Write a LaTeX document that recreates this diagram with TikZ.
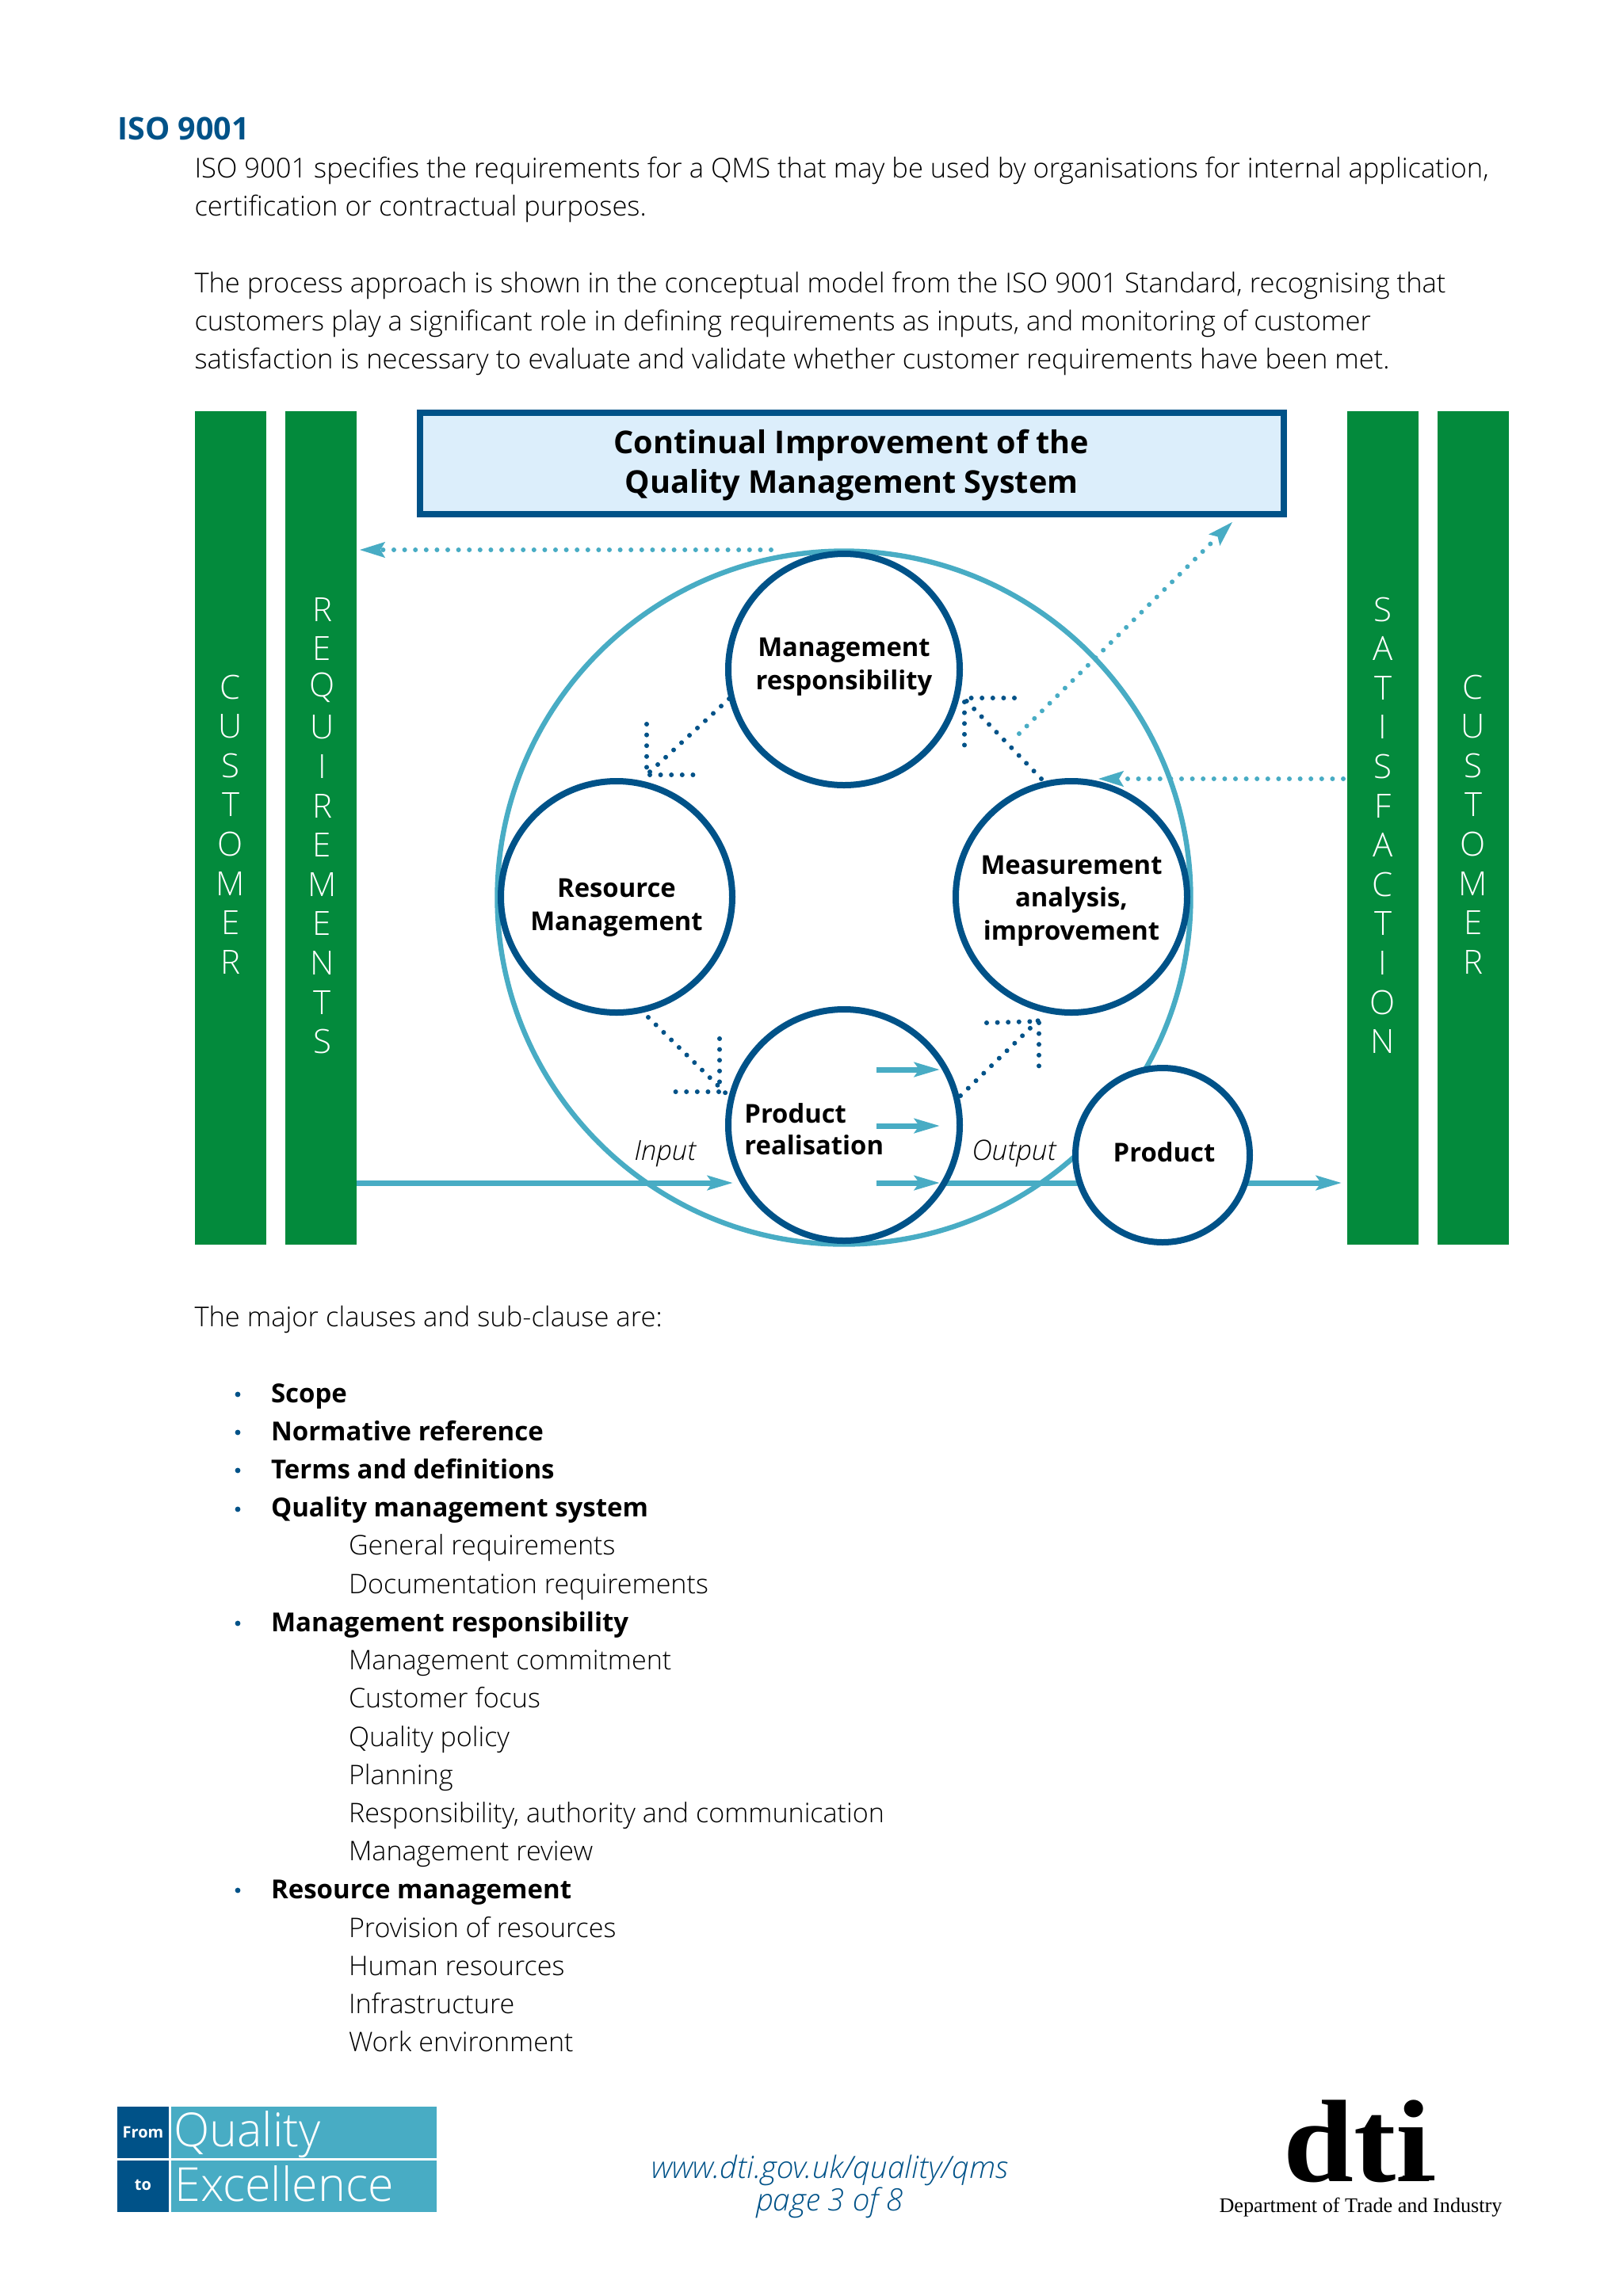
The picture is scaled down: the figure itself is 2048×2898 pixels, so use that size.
\documentclass[tikz,border=0pt]{standalone}
\usepackage{fontspec}
\usetikzlibrary{arrows.meta,calc}
\setmainfont{Open Sans Light}[ItalicFont=Open Sans Light Italic]
\newfontfamily\semifam{Open Sans}
\newcommand{\semibold}{\semifam\bfseries}
\newfontfamily\dtiserif{Liberation Serif}
\definecolor{dkblue}{HTML}{005288}
\definecolor{teal}{HTML}{48ACC4}
\definecolor{paleblue}{HTML}{DCEEFB}
\definecolor{barg}{HTML}{038A3C}
\tikzset{
  x=0.5pt,y=-0.5pt,
  line/.style={anchor=base west,inner sep=0pt,outer sep=0pt,font=\fontsize{17.27}{19}\selectfont},
  subline/.style={line,font=\fontsize{17.05}{19}\selectfont},
  boldline/.style={line,font=\fontsize{16.5}{19}\semibold},
  bullet/.style={circle,fill=dkblue,inner sep=0pt,minimum size=3.4pt},
  bar/.style={rectangle,fill=barg,inner sep=0pt,minimum width=45pt,minimum height=526pt},
  barletter/.style={anchor=center,inner sep=0pt,text=white,font=\fontsize{21}{24}\selectfont},
  proc/.style={circle,draw=dkblue,line width=4pt,fill=white,inner sep=0pt,minimum size=146pt},
  lbl/.style={inner sep=0pt,align=center,font=\fontsize{16.4}{20.8}\semibold},
  solidflow/.style={draw=teal,line width=3.5pt},
  solidarrow/.style={solidflow,-{Stealth[length=16pt,width=9pt,inset=3pt]}},
  dotblue/.style={draw=dkblue,line width=3pt,line cap=round,dash pattern=on 0pt off 6.8pt},
  dotteal/.style={draw=teal,line width=3pt,line cap=round,dash pattern=on 0pt off 6.8pt},
  tealtip/.style={draw=teal,line width=1pt,-{Stealth[length=16pt,width=10pt,inset=3pt]}},
}
\begin{document}
\begin{tikzpicture}
\useasboundingbox[fill=white] (0,0) rectangle (2048,2898);

% text above
\node[anchor=base west,inner sep=0pt,text=dkblue,font=\fontsize{19.7}{24}\semibold] (title) at (148,176) {ISO 9001};
\node[line] (t1) at (245.5,224) {ISO 9001 specifies the requirements for a QMS that may be used by organisations for internal application,};
\node[line] (t2) at (245.5,272.3) {certification or contractual purposes.};
\node[line] (t3) at (245.5,369) {The process approach is shown in the conceptual model from the ISO 9001 Standard, recognising that};
\node[line] (t4) at (245.5,417) {customers play a significant role in defining requirements as inputs, and monitoring of customer};
\node[line] (t5) at (245.5,465) {satisfaction is necessary to evaluate and validate whether customer requirements have been met.};

% bars
\node[bar] (barA) at (291,1045) {};
\node[bar] (barB) at (405,1045) {};
\node[bar] (barC) at (1745,1045) {};
\node[bar] (barD) at (1859,1045) {};
\foreach \c [count=\i from 0] in {C,U,S,T,O,M,E,R}{
  \node[barletter] (a\i) at (291,867+49.6*\i) {\c};
  \node[barletter] (d\i) at (1859,867+49.6*\i) {\c};
}
\foreach \c [count=\i from 0] in {R,E,Q,U,I,R,E,M,E,N,T,S}{
  \node[barletter] (b\i) at (406.5,769+49.6*\i) {\c};
}
\foreach \c [count=\i from 0] in {S,A,T,I,S,F,A,C,T,I,O,N}{
  \node[barletter] (c\i) at (1745,769+49.6*\i) {\c};
}

% improvement box
\node[rectangle,draw=dkblue,line width=4pt,fill=paleblue,inner sep=0pt,minimum width=545pt,minimum height=64pt] (improve) at (1074.5,585) {};
\node[inner sep=0pt,align=center,font=\fontsize{19.8}{25}\semibold] (improveL) at (1074.5,587) {Continual Improvement of the\\Quality Management System};

% big circle and process circles
\node[circle,draw=teal,line width=3.2pt,inner sep=0pt,minimum size=437.5pt] (big) at (1065,1133) {};

% connector end points
\coordinate (inL) at (450,1493);
\coordinate (inR) at (925,1493);
\coordinate (a1s) at (1106,1350); \coordinate (a1e) at (1186,1350);
\coordinate (a2s) at (1106,1421); \coordinate (a2e) at (1186,1421);
\coordinate (a3s) at (1106,1493); \coordinate (a3e) at (1186,1493);
\coordinate (outL) at (1186,1493);
\coordinate (outR) at (1693,1493);
\coordinate (prodW) at (1400,1493);
\coordinate (prodE) at (1500,1493);

\draw[solidarrow] (inL) -- (inR);
\draw[solidflow] (outL) -- (prodW);
\draw[solidarrow] (prodE) -- (outR);

\node[proc] (mgmt) at (1065,845) {};
\node[proc] (res) at (778,1132) {};
\node[proc] (meas) at (1352,1132) {};
\node[proc] (real) at (1065,1420) {};
\node[proc,minimum size=110pt] (prod) at (1467,1458) {};

\draw[solidarrow] (a1s) -- (a1e);
\draw[solidarrow] (a2s) -- (a2e);
\draw[solidarrow] (a3s) -- (a3e);

\node[lbl] (mgmtL) at (1065,842) {Management\\responsibility};
\node[lbl] (resL) at (778,1146) {Resource\\Management};
\node[lbl] (measL) at (1352,1137) {Measurement\\analysis,\\improvement};
\node[lbl,anchor=base west] (realL) at (939,1417) {Product};
\node[lbl,anchor=base west] (realM) at (939,1457) {realisation};
\node[lbl,anchor=base] (prodL) at (1469,1466) {Product};
\node[anchor=base west,inner sep=0pt,font=\fontsize{17.4}{19}\itshape] (inT) at (800,1464) {Input};
\node[anchor=base west,inner sep=0pt,font=\fontsize{17.7}{19}\itshape] (outT) at (1226,1464) {Output};

% dotted blue arrows
\coordinate (p1a) at (818,1284); \coordinate (p1b) at (918,1382);
\coordinate (p1c) at (908,1311); \coordinate (p1d) at (908,1378); \coordinate (p1e) at (845,1378);
\draw[dotblue] (p1a) -- (p1b);
\draw[dotblue] (p1c) -- (p1d) -- (p1e);
\coordinate (p2a) at (1212,1383); \coordinate (p2b) at (1310,1288);
\coordinate (p2c) at (1245,1291); \coordinate (p2d) at (1311,1289); \coordinate (p2e) at (1311,1355);
\draw[dotblue] (p2a) -- (p2b);
\draw[dotblue] (p2c) -- (p2d) -- (p2e);
\coordinate (p3a) at (1314,983); \coordinate (p3b) at (1215,880);
\coordinate (p3c) at (1280,881); \coordinate (p3d) at (1217,881); \coordinate (p3e) at (1217,949);
\draw[dotblue] (p3a) -- (p3b);
\draw[dotblue] (p3c) -- (p3d) -- (p3e);
\coordinate (p4a) at (920,882); \coordinate (p4b) at (817,977);
\coordinate (p4c) at (816,914); \coordinate (p4d) at (816,978); \coordinate (p4e) at (884,978);
\draw[dotblue] (p4a) -- (p4b);
\draw[dotblue] (p4c) -- (p4d) -- (p4e);

% dotted teal arrows
\coordinate (q1a) at (973,694); \coordinate (q1b) at (454,694);
\coordinate (q2a) at (1695,983); \coordinate (q2b) at (1386,983);
\coordinate (q3a) at (1286,926); \coordinate (q3b) at (1555,659);
\draw[dotteal] (q1a) -- ($(q1b)!14pt!(q1a)$);
\draw[dotteal] (q2a) -- ($(q2b)!14pt!(q2a)$);
\draw[dotteal] (q3a) -- ($(q3b)!14pt!(q3a)$);
\draw[tealtip] ($(q1b)!8pt!(q1a)$) -- (q1b);
\draw[tealtip] ($(q2b)!8pt!(q2a)$) -- (q2b);
\draw[tealtip] ($(q3b)!8pt!(q3a)$) -- (q3b);

% lower text
\node[line] (m0) at (245.5,1674) {The major clauses and sub-clause are:};
\node[boldline] (m1) at (342,1770) {Scope};
\node[boldline] (m2) at (342,1818) {Normative reference};
\node[boldline] (m3) at (342,1866) {Terms and definitions};
\node[boldline] (m4) at (342,1914.5) {Quality management system};
\node[subline] (m5) at (440,1962.5) {General requirements};
\node[subline] (m6) at (440,2011) {Documentation requirements};
\node[boldline] (m7) at (342,2059) {Management responsibility};
\node[subline] (m8) at (440,2107.5) {Management commitment};
\node[subline] (m9) at (440,2155.5) {Customer focus};
\node[subline] (m10) at (440,2204) {Quality policy};
\node[subline] (m11) at (440,2252) {Planning};
\node[subline] (m12) at (440,2300) {Responsibility, authority and communication};
\node[subline] (m13) at (440,2348.5) {Management review};
\node[boldline] (m14) at (342,2396.5) {Resource management};
\node[subline] (m15) at (440,2445) {Provision of resources};
\node[subline] (m16) at (440,2493) {Human resources};
\node[subline] (m17) at (440,2541) {Infrastructure};
\node[subline] (m18) at (440,2589.5) {Work environment};
\foreach \yy/\n in {1760/1,1808/2,1856/3,1905/4,2049/5,2386/6}{
  \node[bullet] (bu\n) at (300,\yy) {};
}

% footer logo
\fill[dkblue] (148,2659) rectangle (213,2724);
\fill[dkblue] (148,2727) rectangle (213,2792);
\fill[teal] (216,2659) rectangle (551,2724);
\fill[teal] (216,2727) rectangle (551,2792);
\node[anchor=center,inner sep=0pt,text=white,font=\fontsize{10}{12}\semibold] (from) at (180.5,2691) {From};
\node[anchor=center,inner sep=0pt,text=white,font=\fontsize{10}{12}\semibold] (to) at (180.5,2758) {to};
\node[anchor=base west,inner sep=0pt,text=white,font=\fontsize{29.6}{32}\selectfont] (qual) at (219,2709) {Quality};
\node[anchor=base west,inner sep=0pt,text=white,font=\fontsize{29.6}{32}\selectfont] (exc) at (220,2778) {Excellence};

\node[anchor=base,inner sep=0pt,text=dkblue,font=\fontsize{19.4}{22}\itshape] (url) at (1047,2749) {www.dti.gov.uk/quality/qms};
\node[anchor=base,inner sep=0pt,text=dkblue,font=\fontsize{19.4}{22}\itshape] (pg) at (1047,2790) {page 3 of 8};

% dti logo
\node[anchor=base west,inner sep=0pt,font=\fontsize{74}{80}\dtiserif\bfseries] (dti) at (1619,2753) {\scalebox{1.08}[1]{dti}};
\fill[black] (1770,2746) rectangle (1810,2752);
\node[anchor=base,inner sep=0pt,font=\fontsize{13.1}{16}\dtiserif] (dept) at (1717,2792) {Department of Trade and Industry};
\end{tikzpicture}
\end{document}
